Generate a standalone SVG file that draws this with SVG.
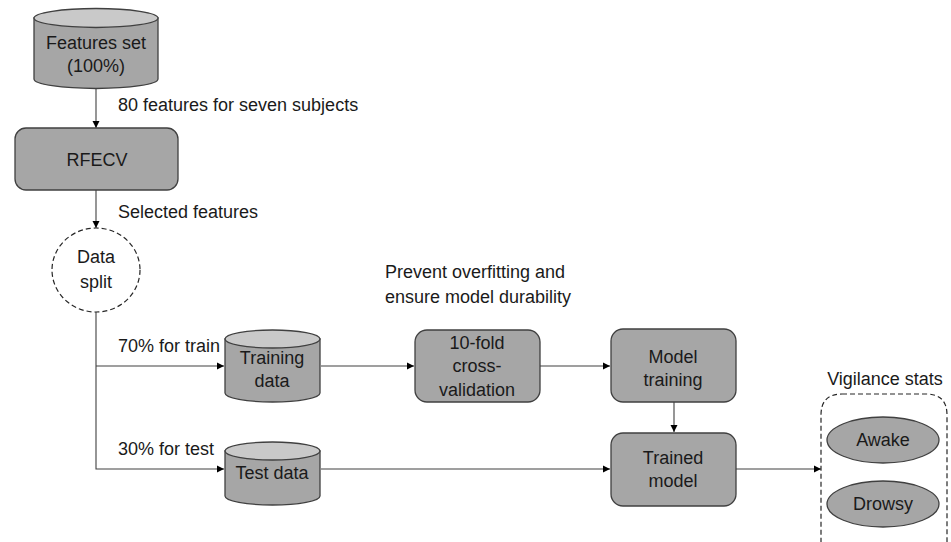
<svg xmlns="http://www.w3.org/2000/svg" width="951" height="542" viewBox="0 0 951 542">
<defs>
<style>
text{font-family:"Liberation Sans",Arial,sans-serif;font-size:18px;fill:#1a1a1a}
.c{text-anchor:middle}
.body{fill:#a6a6a6;stroke:#404040;stroke-width:1.3}
.top{fill:#c9c9c9;stroke:#404040;stroke-width:1.3}
.ln{fill:none;stroke:#404040;stroke-width:1.1}
.dash{fill:none;stroke:#262626;stroke-width:1.2;stroke-dasharray:5 3}
</style>
<marker id="ah" markerWidth="8" markerHeight="8" refX="7" refY="4" orient="auto" markerUnits="userSpaceOnUse">
<path d="M0,0.5 L7,4 L0,7.5 Z" fill="#000"/>
</marker>
</defs>
<rect width="951" height="542" fill="#fff"/>

<g id="connectors">
<line class="ln" x1="96" y1="89" x2="96" y2="128" marker-end="url(#ah)"/>
<line class="ln" x1="96" y1="190" x2="96" y2="228" marker-end="url(#ah)"/>
<polyline class="ln" points="96,312 96,469 224,469" marker-end="url(#ah)"/>
<line class="ln" x1="96" y1="366" x2="224" y2="366" marker-end="url(#ah)"/>
<line class="ln" x1="321" y1="366" x2="414" y2="366" marker-end="url(#ah)"/>
<line class="ln" x1="540" y1="366" x2="610" y2="366" marker-end="url(#ah)"/>
<line class="ln" x1="321" y1="469" x2="610" y2="469" marker-end="url(#ah)"/>
<line class="ln" x1="674" y1="402" x2="674" y2="432" marker-end="url(#ah)"/>
<line class="ln" x1="736" y1="469" x2="821" y2="469" marker-end="url(#ah)"/>
</g>

<g id="features-set">
<path class="body" d="M34,18 L34,79 A62,9.5 0 0 0 158,79 L158,18 Z"/>
<ellipse class="top" cx="96" cy="18" rx="62" ry="9.5"/>
<text class="c" x="96" y="49">Features set</text>
<text class="c" x="96" y="72">(100%)</text>
</g>

<g id="rfecv">
<rect class="body" x="15" y="128" width="163" height="62" rx="11"/>
<text class="c" x="97" y="166">RFECV</text>
</g>

<g id="data-split">
<ellipse class="dash" cx="96" cy="270" rx="44" ry="42"/>
<text class="c" x="96" y="263">Data</text>
<text class="c" x="96" y="288">split</text>
</g>

<g id="training-data">
<path class="body" d="M225,339 L225,393 A47.5,9 0 0 0 320,393 L320,339 Z"/>
<ellipse class="top" cx="272.5" cy="339" rx="47.5" ry="9"/>
<text class="c" x="272" y="364">Training</text>
<text class="c" x="272" y="387">data</text>
</g>

<g id="test-data">
<path class="body" d="M225,451 L225,496 A47.5,9 0 0 0 320,496 L320,451 Z"/>
<ellipse class="top" cx="272.5" cy="451" rx="47.5" ry="9"/>
<text class="c" x="272" y="479">Test data</text>
</g>

<g id="cross-validation">
<rect class="body" x="415" y="330" width="125" height="72" rx="12"/>
<text class="c" x="477" y="349">10-fold</text>
<text class="c" x="477" y="372">cross-</text>
<text class="c" x="477" y="396">validation</text>
</g>

<g id="model-training">
<rect class="body" x="611" y="329" width="125" height="73" rx="12"/>
<text class="c" x="673" y="363">Model</text>
<text class="c" x="673" y="386">training</text>
</g>

<g id="trained-model">
<rect class="body" x="611" y="433" width="125" height="73" rx="12"/>
<text class="c" x="673" y="464">Trained</text>
<text class="c" x="673" y="487">model</text>
</g>

<g id="vigilance-stats">
<path class="dash" d="M842,394 L926,394 Q947,394 947,415 L947,545 L821,545 L821,415 Q821,394 842,394 Z"/>
<text class="c" x="885" y="385">Vigilance stats</text>
<g id="awake">
<ellipse class="body" cx="883" cy="440" rx="56" ry="23"/>
<text class="c" x="883" y="446">Awake</text>
</g>
<g id="drowsy">
<ellipse class="body" cx="883" cy="504" rx="56" ry="23"/>
<text class="c" x="883" y="510">Drowsy</text>
</g>
</g>

<g id="labels">
<text x="118" y="111">80 features for seven subjects</text>
<text x="118" y="218">Selected features</text>
<text x="385" y="278">Prevent overfitting and</text>
<text x="385" y="303">ensure model durability</text>
<text x="118" y="352">70% for train</text>
<text x="118" y="455">30% for test</text>
</g>
</svg>
